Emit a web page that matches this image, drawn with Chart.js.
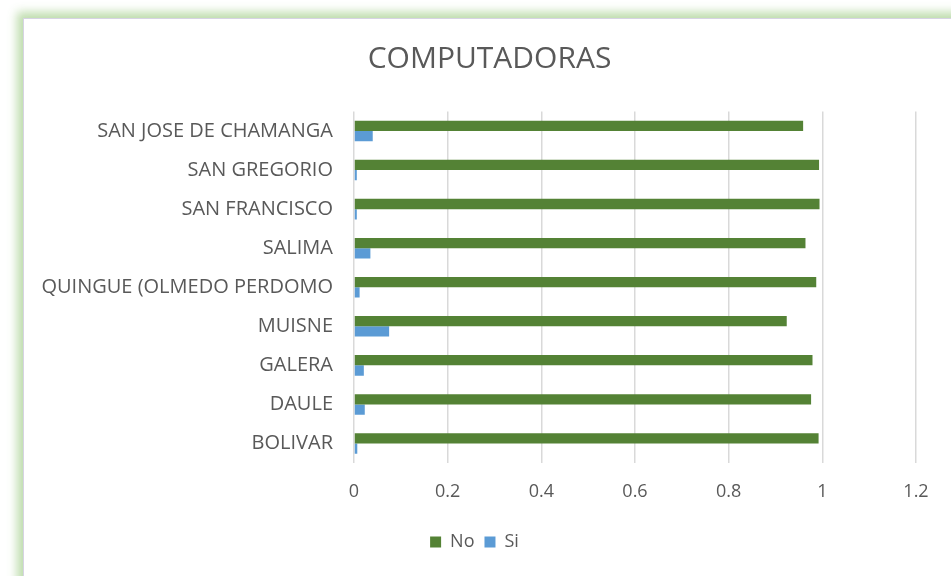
<!DOCTYPE html>
<html>
<head>
<meta charset="utf-8">
<script src="https://cdn.jsdelivr.net/npm/chart.js@4"></script>
<style>
  html, body { margin: 0; padding: 0; background: #ffffff; width: 951px; height: 576px; overflow: hidden; }
  #frame {
    position: absolute; left: 23px; top: 18px; width: 940px; height: 570px;
    background: #ffffff;
    border-left: 1px solid #d6d3e3; border-top: 1px solid #d6d3e3;
    box-shadow: 0 0 9px 6px rgba(180, 215, 160, 0.85);
  }
  #wrap { position: absolute; left: 23px; top: 18px; width: 928px; height: 558px; }
</style>
</head>
<body>
<div id="frame"></div>
<div id="wrap"><canvas id="c" width="928" height="558"></canvas></div>
<script>
const categories = ['SAN JOSE DE CHAMANGA', 'SAN GREGORIO', 'SAN FRANCISCO', 'SALIMA', 'QUINGUE (OLMEDO PERDOMO', 'MUISNE', 'GALERA', 'DAULE', 'BOLIVAR'];
const noValues = [0.959, 0.993, 0.994, 0.964, 0.987, 0.924, 0.979, 0.976, 0.992];
const siValues = [0.040, 0.006, 0.006, 0.035, 0.012, 0.075, 0.021, 0.023, 0.007];
const xTickLabels = ['0', '0.2', '0.4', '0.6', '0.8', '1', '1.2'];

const FONT = "'Open Sans', sans-serif";
const TXT = '#595959';

const blockShift = {
  id: 'blockShift',
  afterLayout(chart) {
    const lg = chart.legend;
    if (lg) { lg.left += 0; lg.right += 0; }
    const tb = chart.titleBlock;
    if (tb) { tb.left += 15; tb.right += 15; }
  }
};

new Chart(document.getElementById('c'), {
  type: 'bar',
  data: {
    labels: categories,
    datasets: [
      { label: 'No', data: noValues, backgroundColor: '#548235', borderWidth: 0 },
      { label: 'Si', data: siValues, backgroundColor: '#5b9bd5', borderWidth: 0 }
    ]
  },
  options: {
    indexAxis: 'y',
    responsive: false,
    animation: false,
    devicePixelRatio: 1,
    layout: { padding: { left: 10, right: 35, top: 5, bottom: 15 } },
    datasets: { bar: { barPercentage: 1, categoryPercentage: 0.527 } },
    plugins: {
      title: {
        display: true, text: 'COMPUTADORAS', color: TXT,
        font: { family: FONT, size: 30, weight: 'normal' },
        padding: { top: 18.5, bottom: 34 }
      },
      legend: {
        position: 'bottom',
        labels: {
          color: TXT, font: { family: FONT, size: 18 },
          boxWidth: 11, boxHeight: 11, padding: 10
        }
      },
      tooltip: { enabled: false }
    },
    scales: {
      x: {
        min: 0, max: 1.2,
        ticks: {
          stepSize: 0.2, color: TXT, padding: 18,
          font: { family: FONT, size: 18 },
          callback: (v, i) => xTickLabels[i]
        },
        grid: { color: '#d9d9d9', lineWidth: 1.5, drawTicks: false },
        border: { display: false },
        afterFit: (s) => { s.height = 60; }
      },
      y: {
        ticks: { color: TXT, padding: 21, font: { family: FONT, size: 20 } },
        grid: { display: false, drawTicks: false },
        border: { display: false },
        afterFit: (s) => { s.width = 321; }
      }
    }
  },
  plugins: [blockShift]
});
</script>
</body>
</html>
